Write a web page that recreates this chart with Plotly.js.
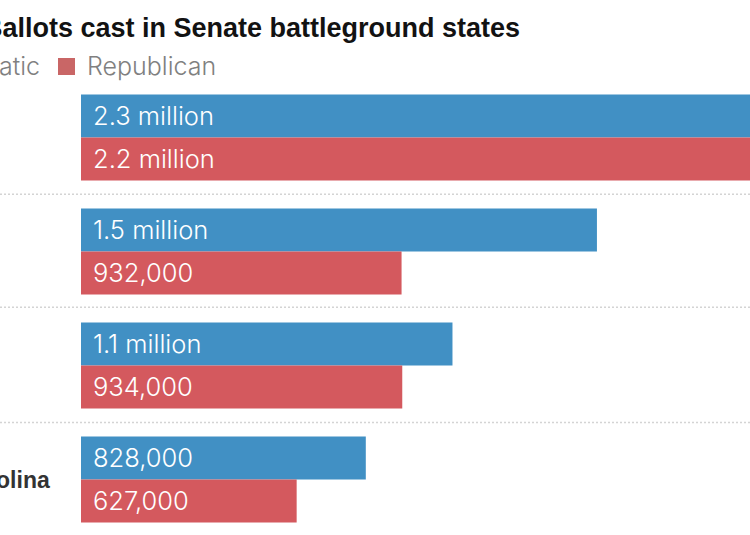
<!DOCTYPE html>
<html><head><meta charset="utf-8">
<script src="https://cdn.plot.ly/plotly-3.0.1.min.js"></script>
<style>html,body{margin:0;padding:0;background:#fff;overflow:hidden}</style>
</head><body><div id="chart" style="width:750px;height:535px"></div>
<script>
const rows = ['State A','State B','State C','North Carolina'];
const demVotes = [2300,1500,1080,828];
const repVotes = [2200,932,934,627];
const demLabels = ['2.3 million','1.5 million','1.1 million','828,000'];
const repLabels = ['2.2 million','932,000','934,000','627,000'];
const dividers = [0.497,1.488,2.499];
const titleText = 'Ballots cast in Senate battleground states';
const FONT = '"Liberation Sans", Arial, sans-serif';
const LIGHT = 'Inter, Arial, sans-serif';
const BLUE = '#4190c4', RED = '#d4595e';

const bar = (name, x, color) => ({type:'bar', orientation:'h', name, y:rows, x,
  marker:{color, line:{width:0}}, hoverinfo:'skip', showlegend:false});

const valueNote = (label, row, shift) => ({xref:'x', yref:'y', x:0, y:row, text:label,
  xanchor:'left', yanchor:'middle', xshift:10, yshift:shift, showarrow:false,
  font:{family:LIGHT, size:25.5, weight:300, color:'#ffffff'}});

const annotations = [
  {xref:'paper', yref:'paper', x:(521.5-81)/669, y:(535-28)/454, xanchor:'right', yanchor:'middle',
   text:'<b>'+titleText+'</b>', showarrow:false, font:{family:FONT, size:27, color:'#121212'}},
  {xref:'paper', yref:'paper', x:(42-81)/669, y:(535-66)/454, xanchor:'right', yanchor:'middle',
   text:'Democratic', showarrow:false, font:{family:LIGHT, size:25, weight:300, color:'#808080'}},
  {xref:'paper', yref:'paper', x:(85-81)/669, y:(535-66)/454, xanchor:'left', yanchor:'middle',
   text:'Republican', showarrow:false, font:{family:LIGHT, size:25, weight:300, color:'#808080'}},
  {xref:'paper', yref:'y', x:(52-81)/669, y:rows[3], xanchor:'right', yanchor:'middle',
   text:'<b>'+rows[3]+'</b>', showarrow:false, font:{family:FONT, size:23, color:'#333333'}}
];
rows.forEach((r,i)=>{
  annotations.push(valueNote(demLabels[i], i, 22));
  annotations.push(valueNote(repLabels[i], i, -21));
});

const shapes = dividers.map(y=>({type:'line', xref:'paper', yref:'y', x0:-81/669, x1:1, y0:y, y1:y,
  line:{color:'#d4d4d4', width:1.5, dash:'2px,2px'}}));
shapes.push({type:'rect', xref:'paper', yref:'paper', x0:(58-81)/669, x1:(75-81)/669,
  y0:(535-75)/454, y1:(535-58)/454, fillcolor:'#c96666', line:{width:0}});

Plotly.newPlot('chart',[bar('Democratic',demVotes,BLUE),bar('Republican',repVotes,RED)],{
  width:750, height:535, barmode:'group', bargap:0.246, bargroupgap:0,
  margin:{l:81,r:0,t:81,b:0}, paper_bgcolor:'#fff', plot_bgcolor:'#fff', showlegend:false,
  xaxis:{range:[0,1945], visible:false, fixedrange:true},
  yaxis:{type:'category', categoryorder:'array', categoryarray:rows, range:[3.486,-0.4965],
         showticklabels:false, showgrid:false, zeroline:false, ticks:'', showline:false, fixedrange:true},
  annotations, shapes
},{displayModeBar:false,staticPlot:true});
</script></body></html>
